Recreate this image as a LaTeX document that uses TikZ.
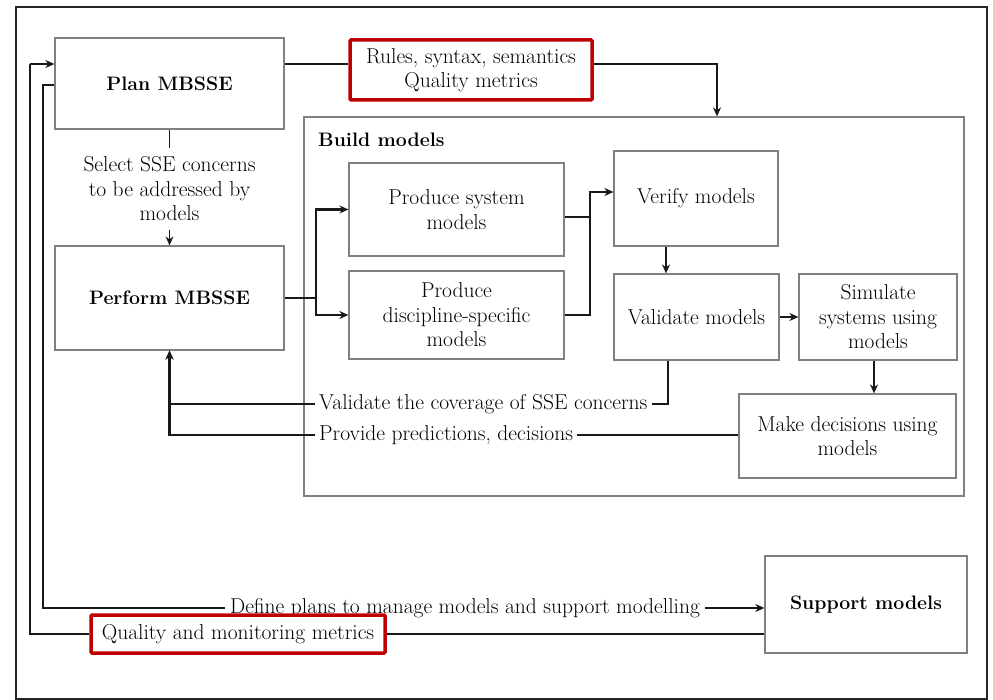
\documentclass[tikz,border=0pt]{standalone}
\usepackage{fontspec}
\usetikzlibrary{arrows.meta}
\begin{document}
\begin{tikzpicture}[x=1pt,y=-1pt,
  every node/.style={font=\fontsize{21.5}{24.5}\selectfont, text=black},
  box/.style={draw=black!50, line width=1.2pt, inner sep=2pt, align=center},
  redbox/.style={draw=red!75!black, line width=3.5pt, inner sep=2pt, align=center, rounded corners=1pt},
  lbl/.style={inner sep=3pt, fill=white},
  bfont/.style={font=\fontsize{19.5}{23}\selectfont\bfseries},
  conn/.style={line width=1.4pt, draw=black!90},
  tconn/.style={line width=2.6pt, draw=black!90},
  arr/.style={-{Stealth[length=9pt,width=8pt]}},
]
\useasboundingbox (0,0) rectangle (993,700);
\draw[line width=2.4pt, draw=black!85] (16,7) rectangle (987,699);

% boxes
\node[box, bfont, minimum width=229, minimum height=91] (plan) at (169.5,83.5) {Plan MBSSE};
\node[box, bfont, minimum width=229, minimum height=104] (perform) at (169.5,298) {Perform MBSSE};
\node[box, minimum width=660, minimum height=379] (build) at (634,306.5) {};
\node[bfont, anchor=west, inner sep=0pt] (buildlbl) at (318,140) {Build models};
\node[box, minimum width=215, minimum height=93] (psys) at (456.5,209.5) {Produce system\\models};
\node[box, minimum width=215, minimum height=88] (pdisc) at (456.5,315) {Produce\\discipline-specific\\models};
\node[box, minimum width=164, minimum height=95] (verify) at (696,198.5) {Verify models};
\node[box, minimum width=165, minimum height=86] (validate) at (696.5,317) {Validate models};
\node[box, minimum width=158, minimum height=86] (simulate) at (878,317) {Simulate\\systems using\\models};
\node[box, minimum width=217, minimum height=84] (decide) at (847.5,436) {Make decisions using\\models};
\node[box, bfont, minimum width=202, minimum height=97] (support) at (866,604.5) {Support models};
\node[redbox, minimum width=242, minimum height=60] (redtop) at (471,70) {Rules, syntax, semantics\\Quality metrics};

% labels
\node[inner sep=0pt, minimum height=82, align=center] (select) at (169.5,189) {Select SSE concerns\\to be addressed by\\models};
\node[lbl, anchor=west, inner sep=4pt] (valcov) at (315,404) {Validate the coverage of SSE concerns};
\node[lbl, anchor=west, inner sep=4pt] (provide) at (315,435) {Provide predictions, decisions};
\node[lbl, inner sep=5pt] (define) at (465,608) {Define plans to manage models and support modelling};
\node[redbox, fill=white, minimum width=294, minimum height=38] (redbot) at (238,634) {Quality and monitoring metrics};

% coordinates
\coordinate (j1) at (316,298);
\coordinate (j2) at (590,217);
\coordinate (j3) at (590,192);
\coordinate (lq) at (30,64);
\coordinate (ld) at (43,608);

% top connectors
\draw[conn] ([yshift=19.5pt]plan.east) -- ([yshift=6pt]redtop.west);
\draw[conn,arr] ([yshift=6pt]redtop.east) -| ([xshift=83pt]build.north);
\draw[conn] (plan.south) -- (select.north);
\draw[conn,arr] (select.south) -- (perform.north);

% perform to produce
\draw[tconn] (perform.east) -- (j1);
\draw[tconn,arr] (j1) |- (psys.west);
\draw[tconn,arr] (j1) |- (pdisc.west);

% produce to verify
\draw[tconn] ([yshift=-7.5pt]psys.east) -- (j2);
\draw[tconn] (pdisc.east) -| (j2);
\draw[tconn,arr] (j2) -- (j3) -- ([yshift=6.5pt]verify.west);

% inner flow
\draw[conn,arr] ([xshift=-30pt]verify.south) -- ([xshift=-30pt]verify.south |- validate.north);
\draw[conn,arr] (validate.east) -- (simulate.west);
\draw[conn,arr] ([xshift=-4pt]simulate.south) -- ([xshift=-4pt]simulate.south |- decide.north);

% feedback to perform
\draw[tconn] ([xshift=-28.5pt]validate.south) |- (valcov.east);
\draw[tconn,arr] (valcov.west) -| (perform.south);
\draw[tconn] (provide.east -| decide.west) -- (provide.east);
\draw[tconn,arr] (provide.west) -| (perform.south);

% bottom loops
\draw[conn] ([yshift=-1.5pt]plan.west) -| (ld) -- (define.west);
\draw[conn,arr] (define.east) -- (define.east -| support.west);
\draw[conn] ([yshift=-29.5pt]support.west) -- ([yshift=-29.5pt]support.west -| redbot.east);
\draw[conn] (redbot.west) -| (lq);
\draw[conn,arr] (lq) -- ([yshift=19.5pt]plan.west);
\end{tikzpicture}
\end{document}
